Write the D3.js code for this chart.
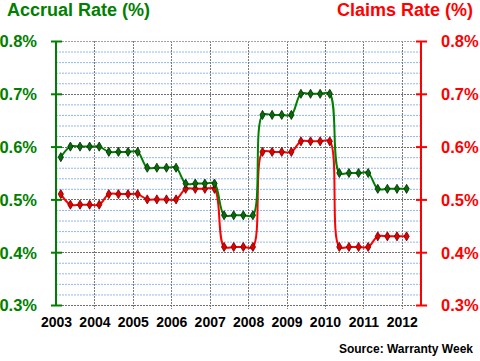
<!DOCTYPE html>
<html><head><meta charset="utf-8">
<script src="https://cdn.jsdelivr.net/npm/d3@7"></script>
<style>body{margin:0;background:#fff}svg{display:block}text{font-family:"Liberation Sans",Arial,sans-serif;font-weight:bold}</style>
</head><body>
<svg id="c" width="480" height="361"></svg>
<script>
// ---- data ----
const years = [2003,2004,2005,2006,2007,2008,2009,2010,2011,2012];
const quarters = [
 "2003Q1","2003Q2","2003Q3","2003Q4","2004Q1","2004Q2","2004Q3","2004Q4","2005Q1",
 "2005Q2","2005Q3","2005Q4","2006Q1","2006Q2","2006Q3","2006Q4","2007Q1",
 "2007Q2","2007Q3","2007Q4","2008Q1","2008Q2","2008Q3","2008Q4","2009Q1",
 "2009Q2","2009Q3","2009Q4","2010Q1","2010Q2","2010Q3","2010Q4","2011Q1",
 "2011Q2","2011Q3","2011Q4","2012Q1"];
const accrualRate = [0.58,0.60,0.60,0.60,0.60,0.59,0.59,0.59,0.59,
 0.56,0.56,0.56,0.56,0.53,0.53,0.53,0.53,
 0.47,0.47,0.47,0.47,0.66,0.66,0.66,0.66,
 0.70,0.70,0.70,0.70,0.55,0.55,0.55,0.55,
 0.52,0.52,0.52,0.52];
const claimsRate = [0.51,0.49,0.49,0.49,0.49,0.51,0.51,0.51,0.51,
 0.50,0.50,0.50,0.50,0.52,0.52,0.52,0.52,
 0.41,0.41,0.41,0.41,0.59,0.59,0.59,0.59,
 0.61,0.61,0.61,0.61,0.41,0.41,0.41,0.41,
 0.43,0.43,0.43,0.43];
const yTicks = [0.3,0.4,0.5,0.6,0.7,0.8];
const yMinor = [0.32,0.34,0.36,0.38,0.42,0.44,0.46,0.48,0.52,0.54,0.56,0.58,0.62,0.64,0.66,0.68,0.72,0.74,0.76,0.78];

// ---- layout ----
const svg = d3.select("#c");
const L=56, R=421, T=41, B=305;
const qPos = q => +q.slice(0,4) + (+q.slice(5)-0.5)/4;
const x = d3.scaleLinear().domain([2003,2012.5]).range([L,R]);
const y = d3.scaleLinear().domain([0.3,0.8]).range([B,T]);
const GREEN="#008000", RED="#ff0000";

// minor grid
svg.append("g").selectAll("line").data(yMinor).join("line")
  .attr("x1",L).attr("x2",R).attr("y1",d=>y(d)+0.5).attr("y2",d=>y(d)+0.5)
  .attr("stroke","#8fb8f0").attr("stroke-width",1).attr("stroke-dasharray","2,1");
// vertical grid
svg.append("g").selectAll("line").data(years.slice(1)).join("line")
  .attr("x1",d=>Math.round(x(d))+0.5).attr("x2",d=>Math.round(x(d))+0.5)
  .attr("y1",T).attr("y2",B+4)
  .attr("stroke","#7a7a7a").attr("stroke-width",1).attr("stroke-dasharray","2,1");
// major grid
svg.append("g").selectAll("line").data(yTicks).join("line")
  .attr("x1",L).attr("x2",R).attr("y1",d=>Math.round(y(d))+0.5).attr("y2",d=>Math.round(y(d))+0.5)
  .attr("stroke",d=>d===0.8?"#b09aa8":"#707070").attr("stroke-width",1).attr("stroke-dasharray","2,1");

// x axis labels
svg.append("g").attr("transform",`translate(0,${B})`)
  .call(d3.axisBottom(x).tickValues(years).tickFormat(d3.format("d")).tickSize(0).tickPadding(0))
  .call(g=>g.select(".domain").remove())
  .call(g=>g.selectAll("text").attr("y",21.5).attr("dy",null).attr("font-size","14px").attr("fill","#000")
     .style("font-family","'Liberation Sans',Arial,sans-serif").style("font-weight","bold"));

// left axis
const fmt = d=>d3.format(".1f")(d)+"%";
svg.append("g").attr("transform",`translate(${L},0)`)
  .call(d3.axisLeft(y).tickValues(yTicks).tickFormat(fmt).tickSize(6).tickPadding(13))
  .call(g=>g.select(".domain").attr("stroke",GREEN).attr("stroke-width",2).attr("d",`M0,${T}V${B}`))
  .call(g=>g.selectAll(".tick line").attr("stroke",GREEN).attr("stroke-width",2).attr("x1",-5).attr("x2",6))
  .call(g=>g.selectAll("text").attr("fill",GREEN).attr("font-size","16.5px").attr("dy","0.36em")
     .style("font-family","'Liberation Sans',Arial,sans-serif").style("font-weight","bold"));
// right axis
svg.append("g").attr("transform",`translate(${R},0)`)
  .call(d3.axisRight(y).tickValues(yTicks).tickFormat(fmt).tickSize(6).tickPadding(14))
  .call(g=>g.select(".domain").attr("stroke",RED).attr("stroke-width",2).attr("d",`M0,${T}V${B}`))
  .call(g=>g.selectAll(".tick line").attr("stroke",RED).attr("stroke-width",2).attr("x1",-5).attr("x2",6))
  .call(g=>g.selectAll("text").attr("fill",RED).attr("font-size","16.5px").attr("dy","0.36em")
     .style("font-family","'Liberation Sans',Arial,sans-serif").style("font-weight","bold"));

// series
const line = d3.line().x((d,i)=>x(qPos(quarters[i]))).y(d=>y(d)).curve(d3.curveCatmullRom.alpha(0.5));
const diamond = d3.symbol().type(d3.symbolDiamond).size(24);
function series(vals,color,fill,stroke){
  svg.append("path").attr("d",line(vals)).attr("fill","none").attr("stroke",color).attr("stroke-width",2);
  svg.append("g").selectAll("path").data(vals).join("path")
    .attr("d",diamond).attr("transform",(d,i)=>`translate(${x(qPos(quarters[i]))},${y(d)})`)
    .attr("fill",fill).attr("stroke",stroke).attr("stroke-width",0.8);
}
series(claimsRate,RED,"#e00000","#700000");
series(accrualRate,GREEN,"#0a6a0a","#002a00");

// titles
svg.append("text").attr("x",7).attr("y",16).attr("font-size","18px").attr("fill",GREEN).text("Accrual Rate (%)");
svg.append("text").attr("x",473).attr("y",16).attr("text-anchor","end").attr("font-size","18px").attr("fill",RED).text("Claims Rate (%)");
svg.append("text").attr("x",473).attr("y",353).attr("text-anchor","end").attr("font-size","12px").attr("fill","#000").text("Source: Warranty Week");
</script>
</body></html>
